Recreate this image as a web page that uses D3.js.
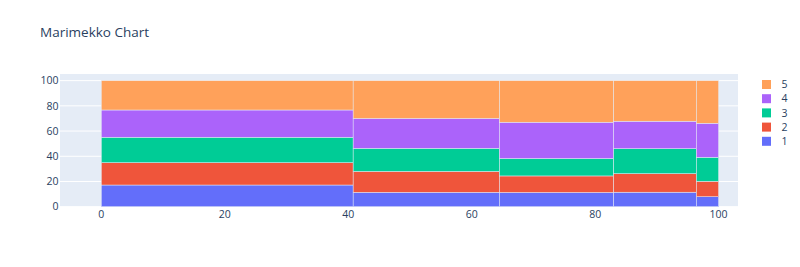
<!DOCTYPE html>
<html>
<head>
<meta charset="utf-8">
<script src="https://cdn.jsdelivr.net/npm/d3@7"></script>
<style>
  body { margin: 0; background: #fff; }
  svg { font-family: "Open Sans", "DejaVu Sans", sans-serif; }
</style>
</head>
<body>
<div id="chart"></div>
<script>
// column widths (sum to 100)
var widths = [40.8, 23.7, 18.5, 13.4, 3.6]
// series names, bottom to top
var seriesNames = ['1', '2', '3', '4', '5']
var colors = ['#636efa', '#EF553B', '#00cc96', '#ab63fa', '#FFA15A']
// segment heights per series, one value per column
var s1 = [17.2, 11.4, 11.3, 11.5, 7.9]
var s2 = [17.7, 16.6, 13.1, 14.7, 12.3]
var s3 = [20.2, 18.3, 13.8, 19.8, 19.0]
var s4 = [21.6, 23.7, 28.8, 21.8, 27.0]
var s5 = [23.3, 30.0, 33.0, 32.2, 33.8]
var xTicks = [0, 20, 40, 60, 80, 100]
var yTicks = [0, 20, 40, 60, 80, 100]

var W = 800, H = 267
var plot = { left: 60, right: 738, top: 74, bottom: 206.7 }

var svg = d3.select('#chart').append('svg')
    .attr('width', W).attr('height', H)

var x = d3.scaleLinear().domain([-6.69, 103.14]).range([plot.left, plot.right])
var y = d3.scaleLinear().domain([0, 105.26]).range([plot.bottom, plot.top])

svg.append('rect')
    .attr('x', plot.left).attr('y', plot.top)
    .attr('width', plot.right - plot.left).attr('height', plot.bottom - plot.top)
    .attr('fill', '#E5ECF6')

// horizontal grid
svg.append('g').selectAll('line').data(yTicks).enter().append('line')
    .attr('x1', plot.left).attr('x2', plot.right)
    .attr('y1', d => y(d)).attr('y2', d => y(d))
    .attr('stroke', '#fff').attr('stroke-width', 1)

// build segments
var series = [s1, s2, s3, s4, s5]
var starts = []
var acc = 0
widths.forEach(function (w) { starts.push(acc); acc += w })
var segments = []
widths.forEach(function (w, i) {
    var base = 0
    series.forEach(function (s, k) {
        segments.push({ x0: starts[i], x1: starts[i] + w, y0: base, y1: base + s[i], k: k })
        base += s[i]
    })
})

svg.append('g').selectAll('rect').data(segments).enter().append('rect')
    .attr('x', d => x(d.x0))
    .attr('width', d => x(d.x1) - x(d.x0))
    .attr('y', d => y(d.y1))
    .attr('height', d => y(d.y0) - y(d.y1))
    .attr('fill', d => colors[d.k])
    .attr('stroke', '#E5ECF6').attr('stroke-width', 0.5)

// tick labels
svg.append('g').selectAll('text').data(xTicks).enter().append('text')
    .attr('x', d => x(d)).attr('y', 217.8)
    .attr('text-anchor', 'middle')
    .attr('font-size', 10.5).attr('fill', '#2a3f5f')
    .text(d => d)
svg.append('g').selectAll('text').data(yTicks).enter().append('text')
    .attr('x', 58.5).attr('y', d => y(d) + 3.7)
    .attr('text-anchor', 'end')
    .attr('font-size', 10.5).attr('fill', '#2a3f5f')
    .text(d => d)

// title
svg.append('text')
    .attr('x', 40).attr('y', 37)
    .attr('font-size', 13.5).attr('fill', '#2a3f5f')
    .text('Marimekko Chart')

// legend, top item is last series
var legend = svg.append('g').selectAll('g')
    .data(seriesNames.map((n, k) => ({ name: n, k: k })).reverse())
    .enter().append('g')
    .attr('transform', (d, i) => 'translate(762,' + (84.5 + i * 14.2) + ')')
legend.append('rect')
    .attr('x', 0).attr('y', -4.5).attr('width', 9).attr('height', 9)
    .attr('fill', d => colors[d.k])
legend.append('text')
    .attr('x', 19.5).attr('y', 3.7)
    .attr('font-size', 10.5).attr('fill', '#2a3f5f')
    .text(d => d.name)
</script>
</body>
</html>
